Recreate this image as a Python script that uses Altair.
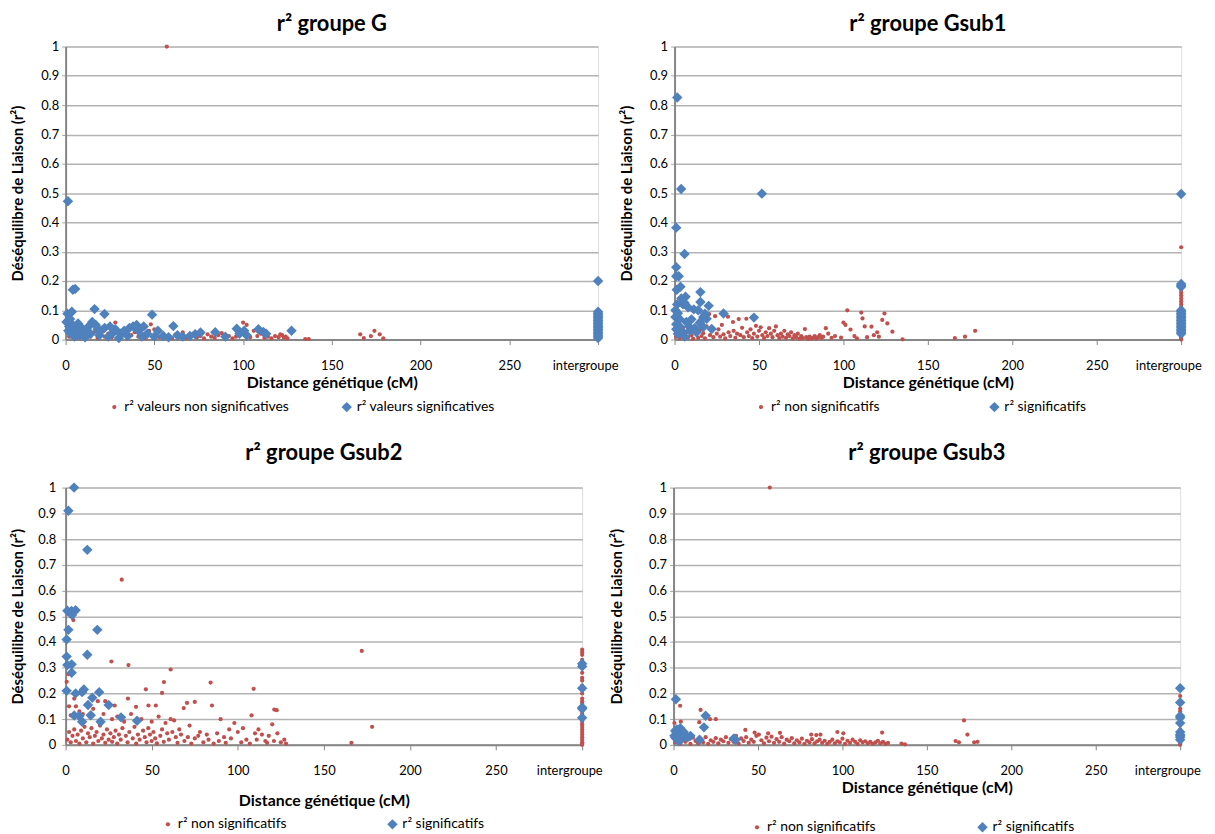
import altair as alt
import pandas as pd

RED = "#C0504D"
BLUE = "#4F81BD"
FONT = "Lato"
X_TICKS = [0, 50, 100, 150, 200, 250, 300]
Y_TICKS = [0, 0.1, 0.2, 0.3, 0.4, 0.5, 0.6, 0.7, 0.8, 0.9, 1]
INTERGROUPE = 300

# ---------------- groupe G ----------------
G_NS = [(2, 0.01), (4, 0.02), (6, 0.005), (8, 0.015), (10, 0.008), (12, 0.02), (14, 0.01), (16, 0.025),
        (18, 0.005), (20, 0.015), (22, 0.01), (24, 0.02), (26, 0.008), (28, 0.058), (29, 0.03), (31, 0.012),
        (33, 0.02), (35, 0.005), (37, 0.015), (39, 0.025), (41, 0.01), (43, 0.02), (45, 0.006), (47, 0.03),
        (48, 0.052), (50, 0.035), (51, 0.015), (53, 0.008), (55, 0.02), (57, 1.0), (58, 0.012), (60, 0.005),
        (62, 0.018), (64, 0.01), (66, 0.025), (68, 0.006), (70, 0.015), (72, 0.02), (74, 0.008), (76, 0.012),
        (78, 0.004), (80, 0.018), (82, 0.01), (84, 0.006), (86, 0.015), (88, 0.022), (90, 0.008), (92, 0.012),
        (94, 0.004), (96, 0.01), (98, 0.02), (100, 0.058), (101, 0.015), (102, 0.05), (104, 0.008), (106, 0.03),
        (108, 0.012), (110, 0.02), (112, 0.006), (114, 0.01), (116, 0.004), (118, 0.012), (120, 0.008),
        (121, 0.018), (122, 0.015), (123, 0.006), (124, 0.01), (125, 0.004), (135, 0.002), (137, 0.002),
        (166, 0.018), (168, 0.005), (172, 0.012), (174, 0.03), (177, 0.018), (179, 0.004)]
G_NS_INTER = [0.003, 0.01, 0.001]
G_S = [(0.5, 0.06), (1, 0.088), (1.3, 0.472), (1.5, 0.03), (2, 0.045), (2.5, 0.07), (3, 0.02), (3.5, 0.095),
       (4.1, 0.17), (4, 0.05), (5.4, 0.173), (5, 0.01), (6, 0.035), (7, 0.055), (8, 0.015), (9, 0.04),
       (10, 0.025), (11, 0.008), (12, 0.03), (13, 0.045), (14, 0.02), (15, 0.06), (16.3, 0.104), (17, 0.05),
       (18, 0.035), (19, 0.015), (20, 0.03), (21.9, 0.087), (22, 0.04), (24, 0.01), (25, 0.045), (27, 0.025),
       (28, 0.035), (30, 0.005), (31, 0.02), (33, 0.03), (35, 0.012), (36, 0.04), (38, 0.045), (40, 0.05),
       (41, 0.03), (43, 0.01), (44, 0.045), (46, 0.02), (48.7, 0.085), (50, 0.01), (52, 0.03), (55, 0.012),
       (58, 0.008), (60.7, 0.046), (63, 0.015), (66, 0.01), (70, 0.012), (73, 0.018), (76, 0.024),
       (84.3, 0.025), (90, 0.01), (96.4, 0.037), (98, 0.02), (100.6, 0.03), (102, 0.015), (108.6, 0.035),
       (111.4, 0.026), (113, 0.02), (127.3, 0.03)]
G_S_INTER = [0.2, 0.095, 0.09, 0.085, 0.08, 0.075, 0.07, 0.065, 0.06, 0.055, 0.05, 0.045, 0.04, 0.035,
             0.03, 0.025, 0.02, 0.015, 0.01, 0.005]

# ---------------- groupe Gsub1 ----------------
G1_NS = [(1, 0.01), (2, 0.03), (3, 0.005), (4, 0.02), (5, 0.04), (6, 0.012), (7, 0.025), (8, 0.008),
         (9, 0.035), (10, 0.015), (11, 0.003), (12, 0.028), (13, 0.018), (14, 0.006), (15, 0.032), (16, 0.012),
         (17, 0.022), (18, 0.004), (19, 0.045), (20.5, 0.087), (21, 0.015), (22, 0.03), (23, 0.008), (24, 0.08),
         (25, 0.02), (26, 0.035), (27, 0.01), (28, 0.05), (29, 0.018), (30, 0.004), (31.6, 0.078), (32, 0.025),
         (33, 0.012), (34.6, 0.06), (35, 0.03), (36, 0.006), (37, 0.02), (38, 0.07), (39, 0.015), (40, 0.04),
         (41, 0.008), (42.5, 0.071), (43, 0.025), (44, 0.012), (45, 0.035), (46, 0.005), (47, 0.02),
         (48.2, 0.047), (49, 0.01), (50, 0.03), (51, 0.042), (52, 0.015), (53, 0.005), (54, 0.025), (55, 0.012),
         (56, 0.039), (57, 0.02), (58, 0.008), (59, 0.03), (60, 0.045), (61, 0.015), (62, 0.005), (63, 0.02),
         (64, 0.01), (65, 0.03), (66, 0.006), (67, 0.018), (68, 0.012), (69, 0.025), (70, 0.004), (71, 0.015),
         (72, 0.008), (73, 0.02), (74, 0.003), (75, 0.012), (76, 0.005), (77.2, 0.036), (78, 0.008), (79, 0.002),
         (80, 0.01), (81, 0.004), (82, 0.006), (83, 0.012), (84, 0.003), (85, 0.008), (86, 0.015), (87, 0.005),
         (88, 0.01), (89.6, 0.039), (91, 0.02), (93, 0.006), (95, 0.012), (98.6, 0.007), (100, 0.058),
         (101.2, 0.05), (102.3, 0.1), (104.2, 0.034), (106.5, 0.012), (108, 0.004), (110.6, 0.092),
         (111.3, 0.072), (112.6, 0.045), (114, 0.008), (116.6, 0.044), (118, 0.015), (120, 0.025), (121, 0.01),
         (123, 0.067), (124.3, 0.089), (126, 0.055), (129, 0.027), (135, 0.001), (166, 0.005), (172, 0.01),
         (178, 0.03)]
G1_NS_INTER = [0.315, 0.17, 0.16, 0.15, 0.14, 0.13, 0.12, 0.11, 0.1, 0.01, 0.005, 0.0]
G1_S = [(1.6, 0.826), (3.9, 0.514), (51.7, 0.498), (1, 0.382), (5.9, 0.292), (1, 0.247), (2.5, 0.216),
        (1, 0.216), (3.5, 0.18), (1.3, 0.17), (15.3, 0.162), (6.5, 0.146), (1.5, 0.12), (5, 0.12),
        (15.3, 0.128), (20.2, 0.115), (11.4, 0.103), (29, 0.089), (47, 0.075), (0.5, 0.077), (3, 0.07),
        (17, 0.077), (19, 0.071), (22, 0.036), (8.5, 0.045), (1, 0.052), (15, 0.058), (10, 0.069), (17, 0.043),
        (1, 0.035), (2, 0.02), (4, 0.03), (6, 0.01), (3, 0.045), (7, 0.06), (12, 0.04), (13, 0.025), (9, 0.03),
        (0.5, 0.1), (2, 0.09), (8, 0.11), (4, 0.14), (6, 0.125), (14, 0.1), (18, 0.088)]
G1_S_INTER = [0.497, 0.19, 0.185, 0.18, 0.1, 0.095, 0.09, 0.085, 0.08, 0.075, 0.07, 0.065, 0.06, 0.055,
              0.05, 0.045, 0.04, 0.035, 0.03, 0.025, 0.02]

# ---------------- groupe Gsub2 ----------------
G2_NS = [(32.6, 0.642), (4.5, 0.485), (26.6, 0.324), (36.5, 0.31), (61, 0.293), (84.2, 0.242), (57.1, 0.244),
         (46.6, 0.216), (109.2, 0.218), (56, 0.202), (36.2, 0.18), (70.5, 0.163), (75, 0.167), (68.6, 0.143),
         (85, 0.153), (40.9, 0.148), (52.4, 0.153), (48.1, 0.153), (121.2, 0.137), (122.6, 0.135), (108, 0.115),
         (90, 0.1), (61, 0.1), (28.5, 0.153), (23, 0.17), (18.7, 0.17), (0.6, 0.245), (1.6, 0.275), (172, 0.365),
         (178, 0.07), (166, 0.008),
         (2, 0.15), (3, 0.115), (5, 0.18), (6, 0.15), (8, 0.13), (10, 0.12), (14, 0.11), (16, 0.14), (22, 0.12),
         (27, 0.1), (30, 0.11), (34, 0.09), (38, 0.12), (44, 0.1), (50, 0.09), (54, 0.11), (58, 0.085),
         (63, 0.095), (66, 0.06), (72, 0.075), (78, 0.05), (82, 0.04), (88, 0.045), (92, 0.03), (95, 0.06),
         (98, 0.085), (100, 0.05), (103, 0.065), (105, 0.02), (110, 0.045), (112, 0.06), (114, 0.04),
         (116, 0.015), (118, 0.035), (120, 0.08), (123, 0.045), (125, 0.01), (127, 0.02),
         (1, 0.02), (2, 0.05), (3, 0.01), (4, 0.035), (5, 0.06), (6, 0.015), (7, 0.04), (8, 0.005), (9, 0.055),
         (10, 0.025), (11, 0.07), (12, 0.01), (13, 0.045), (14, 0.03), (15, 0.065), (16, 0.005), (17, 0.035),
         (18, 0.05), (19, 0.015), (20, 0.075), (21, 0.025), (22, 0.04), (23, 0.008), (24, 0.06), (25, 0.02),
         (26, 0.045), (27, 0.012), (28, 0.03), (29, 0.055), (30, 0.005), (31, 0.04), (32, 0.02), (33, 0.065),
         (35, 0.035), (36, 0.01), (37, 0.05), (39, 0.025), (40, 0.07), (41, 0.005), (42, 0.04), (43, 0.02),
         (45, 0.055), (46, 0.03), (47, 0.01), (48, 0.065), (49, 0.04), (50, 0.015), (51, 0.05), (52, 0.025),
         (53, 0.006), (55, 0.035), (56, 0.06), (57, 0.012), (59, 0.045), (60, 0.02), (62, 0.05), (64, 0.03),
         (65, 0.008), (67, 0.04), (69, 0.015), (71, 0.03), (73, 0.005), (75, 0.025), (77, 0.035), (80, 0.01),
         (83, 0.02), (86, 0.005), (89, 0.015), (93, 0.008), (96, 0.025), (102, 0.01), (107, 0.005), (111, 0.02),
         (117, 0.008), (121, 0.015), (128, 0.005)]
G2_NS_INTER = [0.37, 0.36, 0.35, 0.33, 0.3, 0.28, 0.26, 0.25, 0.23, 0.2, 0.18, 0.17, 0.16, 0.13, 0.12, 0.1,
               0.09, 0.08, 0.07, 0.06, 0.05, 0.04, 0.03, 0.02, 0.01, 0.005, 0.0]
G2_S = [(4.9, 1.0), (1.6, 0.91), (12.6, 0.758), (1, 0.521), (3.4, 0.52), (5.8, 0.523), (3.7, 0.505),
        (18.4, 0.447), (1.6, 0.447), (0.6, 0.41), (12.6, 0.35), (0.6, 0.343), (1, 0.31), (3.5, 0.313),
        (3.5, 0.28), (0.6, 0.21), (5.8, 0.2), (10.6, 0.215), (9.6, 0.205), (15.5, 0.183), (19.5, 0.205),
        (13, 0.155), (25, 0.155), (5, 0.114), (8, 0.112), (14.6, 0.115), (9.6, 0.09), (20.3, 0.09),
        (32.2, 0.107), (41.5, 0.094)]
G2_S_INTER = [0.315, 0.305, 0.22, 0.145, 0.14, 0.105]

# ---------------- groupe Gsub3 ----------------
G3_NS = [(3.9, 0.152), (16, 0.136), (21.6, 0.1), (25, 0.1), (15.2, 0.088), (0.5, 0.085), (4.3, 0.09),
         (42.5, 0.058), (123.5, 0.048), (97, 0.05), (100.5, 0.045), (81.5, 0.04), (84.5, 0.038), (87, 0.04),
         (56, 0.045), (63, 0.047), (48, 0.048), (172, 0.095), (174, 0.04), (167, 0.015), (169, 0.01),
         (178, 0.01), (180, 0.012), (135, 0.005), (137, 0.002), (57, 1.0),
         (1, 0.01), (2.5, 0.025), (4, 0.005), (5.5, 0.03), (7, 0.012), (8.5, 0.02), (10, 0.004), (11.5, 0.028),
         (13, 0.015), (14.5, 0.006), (16, 0.022), (17.5, 0.01), (19, 0.03), (20.5, 0.004), (22, 0.018),
         (23.5, 0.012), (25, 0.026), (26.5, 0.006), (28, 0.02), (29.5, 0.014), (31, 0.03), (32.5, 0.008),
         (34, 0.022), (35.5, 0.012), (37, 0.035), (38.5, 0.005), (40, 0.025), (41.5, 0.015), (43, 0.03),
         (44.5, 0.008), (46, 0.02), (47.5, 0.012), (49, 0.035), (50.5, 0.04), (52, 0.018), (53.5, 0.006),
         (55, 0.028), (56.5, 0.014), (58, 0.032), (59.5, 0.008), (61, 0.022), (62.5, 0.012), (64, 0.03),
         (65.5, 0.005), (67, 0.02), (68.5, 0.014), (70, 0.026), (71.5, 0.006), (73, 0.018), (74.5, 0.01),
         (76, 0.024), (77.5, 0.004), (79, 0.016), (80.5, 0.01), (82, 0.022), (83.5, 0.006), (85, 0.014),
         (86.5, 0.02), (88, 0.008), (89.5, 0.016), (91, 0.004), (92.5, 0.012), (94, 0.02), (95.5, 0.006),
         (97, 0.014), (98.5, 0.01), (100, 0.024), (101.5, 0.004), (103, 0.016), (104.5, 0.008), (106, 0.02),
         (107.5, 0.012), (109, 0.004), (110.5, 0.018), (112, 0.01), (113.5, 0.014), (115, 0.006),
         (116.5, 0.012), (118, 0.004), (119.5, 0.01), (121, 0.016), (122.5, 0.006), (124, 0.012),
         (125.5, 0.004), (127, 0.008)]
G3_NS_INTER = [0.19, 0.14, 0.13, 0.1, 0.06, 0.005, 0.0]
G3_S = [(1.4, 0.177), (19, 0.113), (18, 0.068), (2, 0.06), (1.6, 0.05), (3, 0.04), (6.8, 0.034),
        (35.7, 0.025), (36.7, 0.02), (1, 0.028), (15.4, 0.02), (4, 0.065), (2.5, 0.045), (5, 0.025),
        (8, 0.03), (10, 0.035), (3, 0.015), (0.5, 0.035), (1, 0.055), (6, 0.05)]
G3_S_INTER = [0.22, 0.165, 0.112, 0.105, 0.085, 0.05, 0.04, 0.035, 0.03, 0.02]

TITLES = ["r² groupe G", "r² groupe Gsub1", "r² groupe Gsub2", "r² groupe Gsub3"]
LEG_NS = ["r² valeurs non significatives", "r² non significatifs", "r² non significatifs", "r² non significatifs"]
LEG_S = ["r² valeurs significatives", "r² significatifs", "r² significatifs", "r² significatifs"]


def make_df(ns, ns_inter, s, s_inter, lab_ns, lab_s):
    rows = [{"x": x, "y": y, "serie": lab_ns} for x, y in ns]
    rows += [{"x": INTERGROUPE, "y": y, "serie": lab_ns} for y in ns_inter]
    rows += [{"x": x, "y": y, "serie": lab_s} for x, y in s]
    rows += [{"x": INTERGROUPE, "y": y, "serie": lab_s} for y in s_inter]
    return pd.DataFrame(rows)


def panel(i, df, w, h, cfg):
    dom = [LEG_NS[i], LEG_S[i]]
    leg = alt.Legend(title=None, orient="none", legendX=cfg["lx"], legendY=cfg["ly"],
                     direction="horizontal", columnPadding=cfg["cp"], labelFont=FONT,
                     labelFontSize=14, labelColor="#000000", labelOffset=3, labelLimit=400)
    return alt.Chart(df).mark_point(filled=True, opacity=1).encode(
        x=alt.X("x:Q", scale=alt.Scale(domain=[0, 300], nice=False),
                axis=alt.Axis(values=X_TICKS, title="Distance génétique (cM)", grid=False,
                              labelExpr="datum.value == 300 ? 'intergroupe' : datum.label",
                              labelOffset={"expr": "datum.value == 300 ? -13 : 0"},
                              labelFlush=False, labelOverlap=False,
                              labelFont=FONT, labelFontSize=13, labelColor="#000000",
                              labelPadding=cfg["xlp"], tickSize=5, tickColor="#868686",
                              domainColor="#868686", domainWidth=2,
                              titleFont=FONT, titleFontSize=16, titleFontWeight="bold",
                              titleColor="#000000", titlePadding=cfg["xtp"])),
        y=alt.Y("y:Q", scale=alt.Scale(domain=[0, 1], nice=False),
                axis=alt.Axis(values=Y_TICKS, format="~g", title="Déséquilibre de Liaison (r²)",
                              labelFont=FONT, labelFontSize=13, labelColor="#000000", labelOverlap=False,
                              labelPadding=cfg["ylp"], tickSize=4, tickColor="#A6A6A6",
                              domainColor="#868686", domainWidth=2,
                              gridColor="#B3B3B3", gridWidth=1.5,
                              titleFont=FONT, titleFontSize=15, titleFontWeight="bold",
                              titleColor="#000000", titlePadding=cfg["ytp"])),
        color=alt.Color("serie:N", scale=alt.Scale(domain=dom, range=[RED, BLUE]), legend=leg),
        shape=alt.Shape("serie:N", scale=alt.Scale(domain=dom, range=["circle", "diamond"]), legend=leg),
        size=alt.Size("serie:N", scale=alt.Scale(domain=dom, range=[18, 110]), legend=leg),
    ).properties(
        width=w, height=h,
        title=alt.TitleParams(TITLES[i], font=FONT, fontSize=22, fontWeight="bold", color="#000000",
                              offset=cfg["toff"], anchor="middle"),
    )


p1 = panel(0, make_df(G_NS, G_NS_INTER, G_S, G_S_INTER, LEG_NS[0], LEG_S[0]), 536, 295,
           dict(lx=42, ly=356, cp=50, xlp=15, xtp=2, ylp=3, ytp=15, toff=5))
p2 = panel(1, make_df(G1_NS, G1_NS_INTER, G1_S, G1_S_INTER, LEG_NS[1], LEG_S[1]), 510, 295,
           dict(lx=80, ly=356, cp=108, xlp=15, xtp=2, ylp=3, ytp=15, toff=5))
p3 = panel(2, make_df(G2_NS, G2_NS_INTER, G2_S, G2_S_INTER, LEG_NS[2], LEG_S[2]), 520, 259,
           dict(lx=96, ly=332, cp=99, xlp=15, xtp=15, ylp=6, ytp=12, toff=17))
p4 = panel(3, make_df(G3_NS, G3_NS_INTER, G3_S, G3_S_INTER, LEG_NS[3], LEG_S[3]), 510, 259,
           dict(lx=77, ly=335, cp=100, xlp=15, xtp=2, ylp=3, ytp=24, toff=17))

res = dict(color="independent", shape="independent", size="independent")
top = alt.hconcat(p1, p2, spacing=0).resolve_scale(**res).resolve_legend(**res)
bottom = alt.hconcat(p3, p4, spacing=6).resolve_scale(**res).resolve_legend(**res)
chart = alt.vconcat(top, bottom, spacing=26).resolve_scale(**res).resolve_legend(**res).properties(
    padding={"left": 2, "top": 1, "right": 5, "bottom": 5}
).configure_view(stroke=None).configure(background="white")

chart.save("out.html", embed_options={"renderer": "svg", "actions": False})
